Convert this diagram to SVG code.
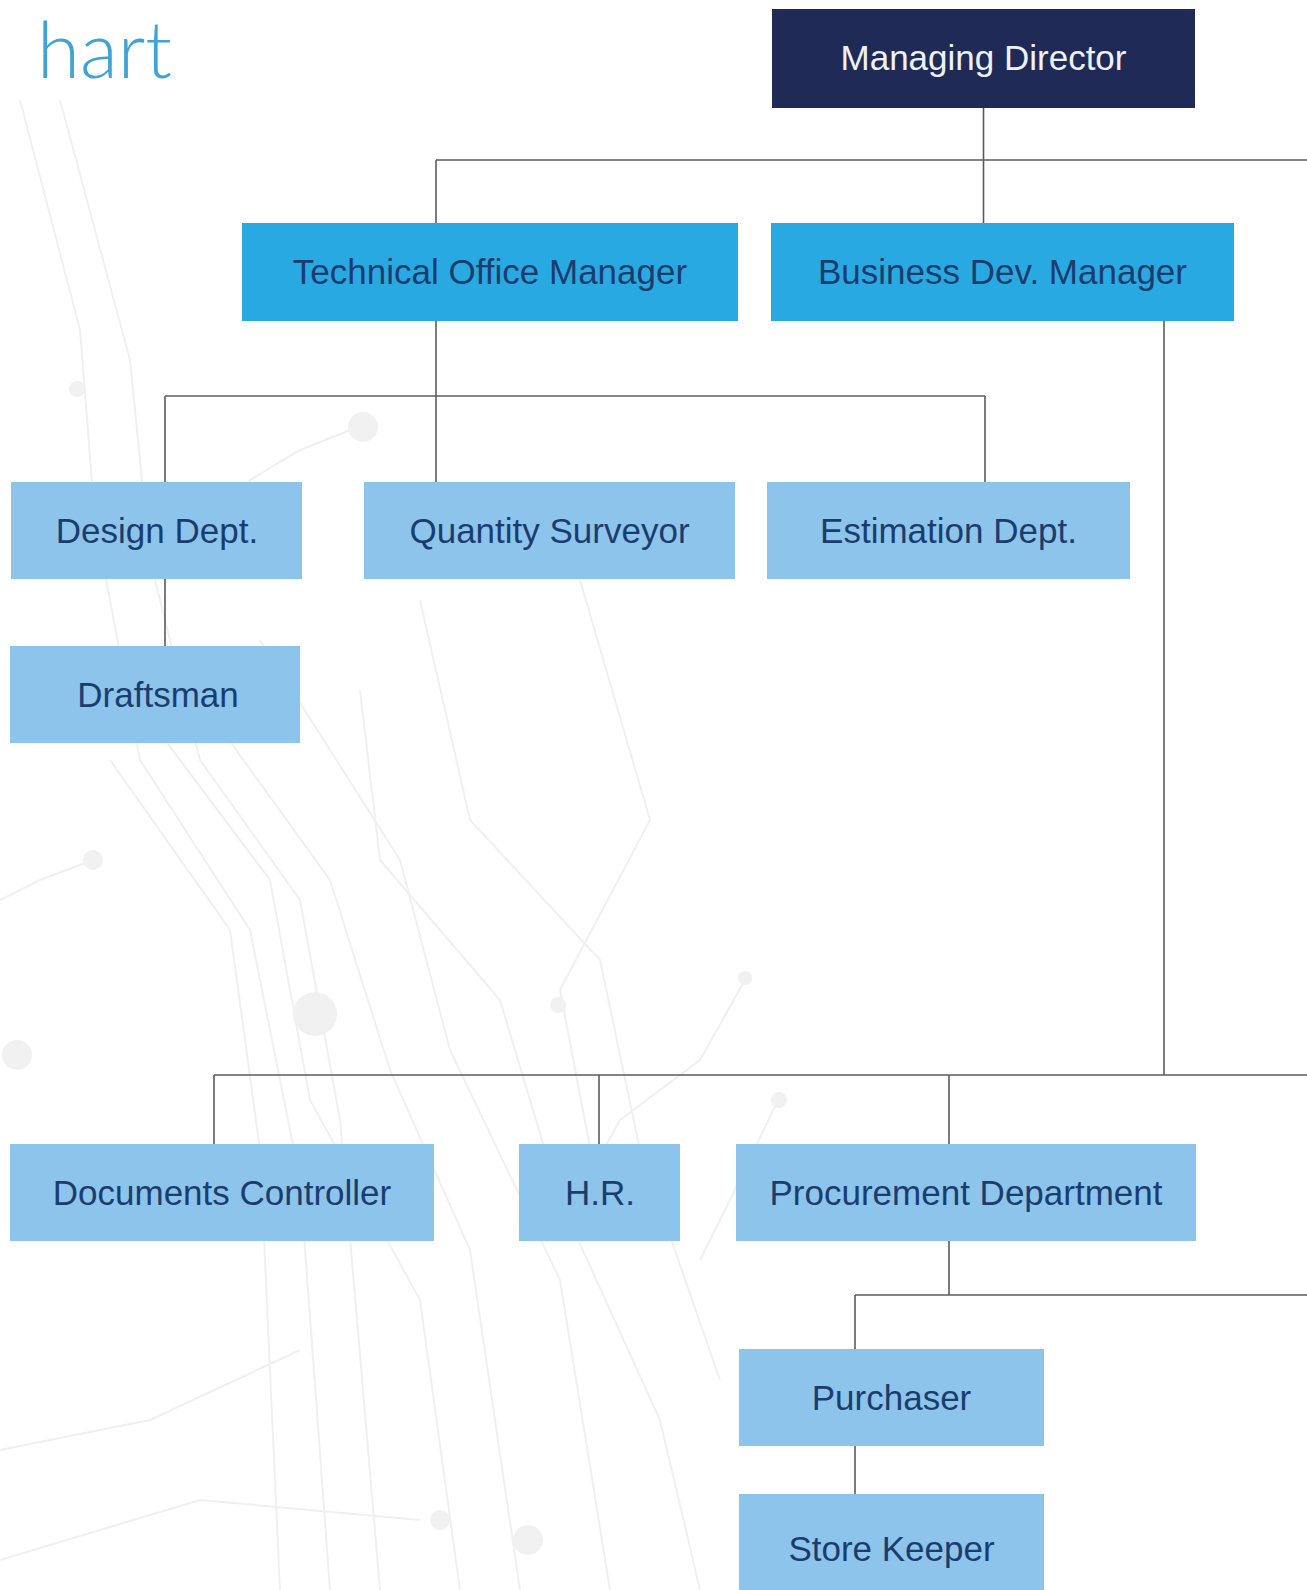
<svg xmlns="http://www.w3.org/2000/svg" width="1307" height="1590" viewBox="0 0 1307 1590">
<style>
.bg{fill:none;stroke:#f0f0f0;stroke-width:2}
.dot{fill:#f1f1f1}
.con{fill:none;stroke:#5b5b5b;stroke-width:1.6}
.md{fill:#1f2a56}
.mgr{fill:#29a9e1}
.dept{fill:#8dc4eb}
.t{font-family:"Liberation Sans",Arial,sans-serif;font-size:35px;text-anchor:middle;fill:#1b3d6e}
.tw{fill:#eef1f8}
</style>
<rect width="1307" height="1590" fill="#ffffff"/>
<g id="background">
<polyline class="bg" points="20,100 80,330 95,520 140,760 250,930 300,1180 330,1590"/>
<polyline class="bg" points="60,100 130,360 150,560 200,760 300,900 340,1120 380,1590"/>
<polyline class="bg" points="110,760 230,930 260,1150 280,1590"/>
<polyline class="bg" points="150,720 270,880 310,1100 420,1300 460,1590"/>
<polyline class="bg" points="200,700 330,880 390,1070 470,1250 520,1590"/>
<polyline class="bg" points="260,640 400,860 450,1050 560,1280 610,1590"/>
<polyline class="bg" points="360,690 380,860 500,1000 560,1200 660,1420 700,1590"/>
<polyline class="bg" points="420,600 470,820 600,960 640,1150 720,1380"/>
<polyline class="bg" points="580,580 650,820 560,990 600,1200"/>
<polyline class="bg" points="363,425 300,450 250,480 220,560"/>
<polyline class="bg" points="93,860 40,880 0,900"/>
<polyline class="bg" points="745,980 700,1060 620,1120 560,1230"/>
<polyline class="bg" points="778,1100 730,1200 700,1260"/>
<polyline class="bg" points="0,1450 150,1420 300,1350"/>
<polyline class="bg" points="0,1560 200,1500 420,1520"/>
<circle class="dot" cx="363" cy="427" r="15"/>
<circle class="dot" cx="315" cy="1014" r="22"/>
<circle class="dot" cx="17" cy="1055" r="15"/>
<circle class="dot" cx="93" cy="860" r="10"/>
<circle class="dot" cx="77" cy="389" r="8"/>
<circle class="dot" cx="558" cy="1005" r="8"/>
<circle class="dot" cx="745" cy="978" r="7"/>
<circle class="dot" cx="779" cy="1100" r="8"/>
<circle class="dot" cx="528" cy="1540" r="15"/>
<circle class="dot" cx="440" cy="1520" r="10"/>
</g>
<g id="title">
<text x="172" y="78" font-family="Lato,'Open Sans',sans-serif" font-weight="300" font-size="78" fill="#3fa3d6" text-anchor="end">hart</text>
</g>
<g id="connectors">
<line class="con" x1="983.5" y1="107" x2="983.5" y2="223"/>
<line class="con" x1="436" y1="160" x2="1307" y2="160"/>
<line class="con" x1="436" y1="160" x2="436" y2="223"/>
<line class="con" x1="436" y1="321" x2="436" y2="482"/>
<line class="con" x1="165" y1="396" x2="985" y2="396"/>
<line class="con" x1="165" y1="396" x2="165" y2="482"/>
<line class="con" x1="985" y1="396" x2="985" y2="482"/>
<line class="con" x1="165" y1="579" x2="165" y2="646"/>
<line class="con" x1="1164" y1="321" x2="1164" y2="1075"/>
<line class="con" x1="214" y1="1075" x2="1307" y2="1075"/>
<line class="con" x1="214" y1="1075" x2="214" y2="1144"/>
<line class="con" x1="599" y1="1075" x2="599" y2="1144"/>
<line class="con" x1="949" y1="1075" x2="949" y2="1144"/>
<line class="con" x1="949" y1="1241" x2="949" y2="1295"/>
<line class="con" x1="855" y1="1295" x2="1307" y2="1295"/>
<line class="con" x1="855" y1="1295" x2="855" y2="1349"/>
<line class="con" x1="855" y1="1446" x2="855" y2="1494"/>
</g>
<g id="managing-director">
<rect class="md" x="772" y="9" width="423" height="99"/>
<text class="t tw" x="983.5" y="70">Managing Director</text>
</g>
<g id="technical-office-manager">
<rect class="mgr" x="242" y="223" width="496" height="98"/>
<text class="t" x="490" y="284">Technical Office Manager</text>
</g>
<g id="business-dev-manager">
<rect class="mgr" x="771" y="223" width="463" height="98"/>
<text class="t" x="1002.5" y="284">Business Dev. Manager</text>
</g>
<g id="design-dept">
<rect class="dept" x="11" y="482" width="291" height="97"/>
<text class="t" x="157" y="543">Design Dept.</text>
</g>
<g id="quantity-surveyor">
<rect class="dept" x="364" y="482" width="371" height="97"/>
<text class="t" x="549.5" y="543">Quantity Surveyor</text>
</g>
<g id="estimation-dept">
<rect class="dept" x="767" y="482" width="363" height="97"/>
<text class="t" x="948.5" y="543">Estimation Dept.</text>
</g>
<g id="draftsman">
<rect class="dept" x="10" y="646" width="290" height="97"/>
<text class="t" x="158" y="707">Draftsman</text>
</g>
<g id="documents-controller">
<rect class="dept" x="10" y="1144" width="424" height="97"/>
<text class="t" x="222" y="1205">Documents Controller</text>
</g>
<g id="hr">
<rect class="dept" x="519" y="1144" width="161" height="97"/>
<text class="t" x="600" y="1205">H.R.</text>
</g>
<g id="procurement-department">
<rect class="dept" x="736" y="1144" width="460" height="97"/>
<text class="t" x="966" y="1205">Procurement Department</text>
</g>
<g id="purchaser">
<rect class="dept" x="739" y="1349" width="305" height="97"/>
<text class="t" x="891.5" y="1410">Purchaser</text>
</g>
<g id="store-keeper">
<rect class="dept" x="739" y="1494" width="305" height="98"/>
<text class="t" x="891.5" y="1561">Store Keeper</text>
</g>
</svg>
